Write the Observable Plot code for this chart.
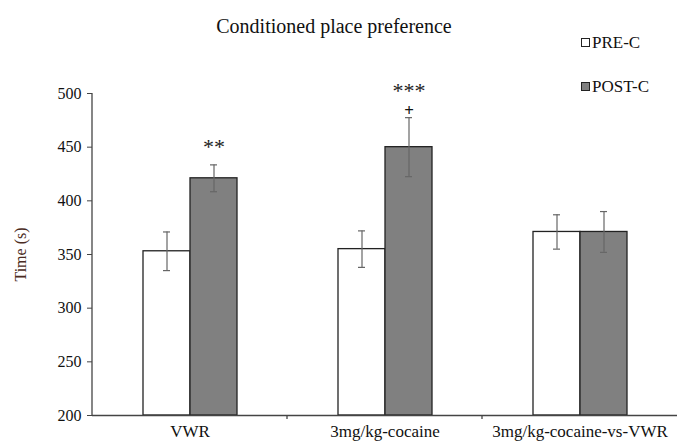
<!DOCTYPE html>
<html>
<head>
<meta charset="utf-8">
<script src="https://cdn.jsdelivr.net/npm/d3@7"></script>
<script src="https://cdn.jsdelivr.net/npm/@observablehq/plot@0.6"></script>
<style>
  html, body { margin: 0; padding: 0; background: #fff; }
  #wrap { position: relative; width: 678px; height: 441px; overflow: hidden; font-family: "Liberation Serif", "DejaVu Serif", serif; color: #111; }
  #title { position: absolute; left: 0; width: 668px; top: 15px; text-align: center; font-size: 20px; }
  .leg { position: absolute; left: 581px; font-size: 17px; white-space: nowrap; }
  .sw { display: inline-block; width: 7px; height: 7px; border: 1px solid #222; margin-right: 2px; vertical-align: 1px; }
  #chart { position: absolute; left: 0; top: 0; }
</style>
</head>
<body>
<div id="wrap">
  <div id="chart"></div>
  <div id="title">Conditioned place preference</div>
  <div class="leg" style="top:33px"><span class="sw" style="background:#fff"></span>PRE-C</div>
  <div class="leg" style="top:77px"><span class="sw" style="background:#808080"></span>POST-C</div>
</div>
<script>
const groups = ["VWR", "3mg/kg-cocaine", "3mg/kg-cocaine-vs-VWR"];
const series = ["PRE-C", "POST-C"];
const preMean = [353, 355, 371];
const preErr = [18, 17, 16];
const postMean = [421, 450, 371];
const postErr = [12.5, 27.5, 19];
const stars = ["**", "***", ""];
const plus = ["", "+", ""];
const yTicks = [200, 250, 300, 350, 400, 450, 500];
const yLabel = "Time (s)";

const rows = [];
groups.forEach((g, i) => {
  rows.push({group: g, series: "PRE-C", mean: preMean[i], lo: preMean[i] - preErr[i], hi: preMean[i] + preErr[i], stars: "", plus: ""});
  rows.push({group: g, series: "POST-C", mean: postMean[i], lo: postMean[i] - postErr[i], hi: postMean[i] + postErr[i], stars: stars[i], plus: plus[i]});
});

const chart = Plot.plot({
  width: 678,
  height: 441,
  marginLeft: 91,
  marginRight: 1,
  marginTop: 93,
  marginBottom: 26,
  style: {fontFamily: "'Liberation Serif', serif", background: "transparent", color: "#111"},
  fx: {domain: groups, padding: 0, label: null},
  x: {domain: series, paddingInner: 0, paddingOuter: 1.04, axis: null},
  y: {domain: [200, 500], label: null},
  color: {domain: series, range: ["#ffffff", "#808080"]},
  marks: [
    Plot.barY(rows, {fx: "group", x: "series", y1: 200, y2: "mean", fill: "series", stroke: "#222", strokeWidth: 1.3}),
    Plot.ruleX(rows, {fx: "group", x: "series", y1: "lo", y2: "hi", stroke: "#666", strokeWidth: 1.2}),
    Plot.tickY(rows, {fx: "group", x: "series", y: "hi", stroke: "#666", strokeWidth: 1.2, insetLeft: 20, insetRight: 20}),
    Plot.tickY(rows, {fx: "group", x: "series", y: "lo", stroke: "#666", strokeWidth: 1.2, insetLeft: 20, insetRight: 20}),
    Plot.text(rows, {fx: "group", x: "series", y: "hi", text: "plus", dy: -7, fontSize: 17, fontWeight: "bold", fill: "#111"}),
    Plot.text(rows, {fx: "group", x: "series", y: "hi", text: "stars", dy: -18, fontSize: 22, fill: "#222", filter: d => d.stars === "**"}),
    Plot.text(rows, {fx: "group", x: "series", y: "hi", text: "stars", dy: -27, fontSize: 22, fill: "#222", filter: d => d.stars === "***"}),
    Plot.ruleY([200], {stroke: "#444", strokeWidth: 1.3}),
    Plot.axisY({ticks: yTicks, tickSize: 5, tickPadding: 6, fontSize: 16, stroke: "#444", fill: "#111", label: null, tickFormat: d => String(d)}),
    Plot.axisY({ticks: [], tickSize: 0, label: yLabel, labelAnchor: "center", labelOffset: 78, fontSize: 16, fill: "#4a2b22", labelArrow: "none"}),
    Plot.axisFx({anchor: "bottom", tickSize: 0, fontSize: 17, tickPadding: 9, fill: "#111", label: null})
  ]
});
document.getElementById("chart").appendChild(chart);

// y axis line and group boundary ticks, positioned through the plot's own scales
const svg = d3.select(chart);
const ys = chart.scale("y");
const fxs = chart.scale("fx");
const axisG = svg.append("g").attr("stroke", "#444").attr("stroke-width", 1.3);
const left = fxs.apply(groups[0]);
axisG.append("line").attr("x1", left).attr("x2", left).attr("y1", ys.apply(500)).attr("y2", ys.apply(200));
groups.forEach((g, i) => {
  if (i === 0) return;
  const xb = fxs.apply(g);
  axisG.append("line").attr("x1", xb).attr("x2", xb).attr("y1", ys.apply(200)).attr("y2", ys.apply(200) + 4);
});
</script>
</body>
</html>
